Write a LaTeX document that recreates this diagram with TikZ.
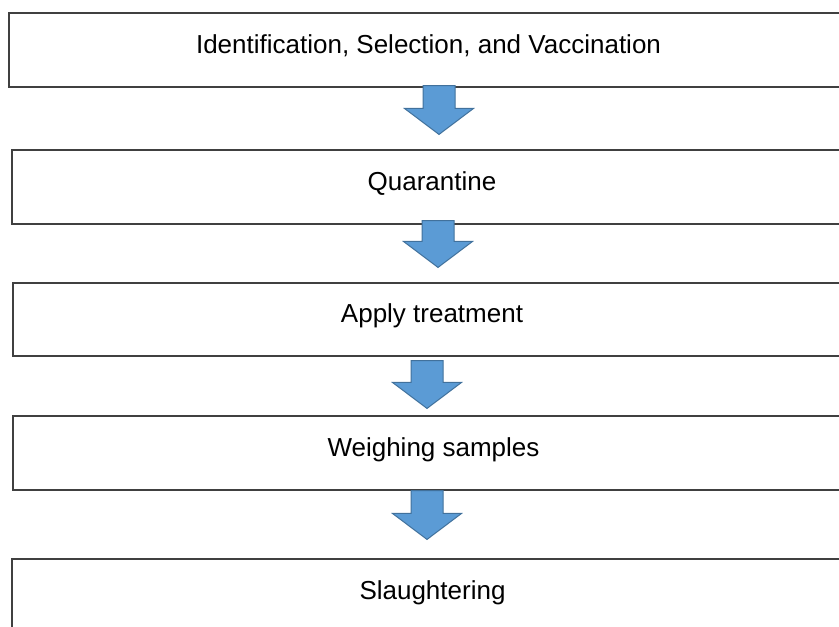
\documentclass[tikz,border=0pt]{standalone}
\usepackage{fontspec}
\setmainfont{Liberation Sans}
\usetikzlibrary{calc}
\definecolor{arrowfill}{HTML}{5B9BD5}
\definecolor{arrowline}{HTML}{41719C}

\begin{document}
\begin{tikzpicture}[x=1pt,y=1pt,
  stepbox/.style={draw=black!75,line width=1.1pt,fill=white,inner sep=0pt,
    minimum height=74pt,text height=20pt,text depth=13pt,
    font=\fontsize{26}{30}\selectfont},
  blockarrow/.style={draw=arrowline,fill=arrowfill,line width=1pt,
    to path={let \p1=(\tikztostart),\p2=(\tikztotarget) in
      (\x1-16pt,\y1) -- (\x1-16pt,\y2+26pt) -- (\x1-34.5pt,\y2+26pt) -- (\x1,\y2)
      -- (\x1+34.5pt,\y2+26pt) -- (\x1+16pt,\y2+26pt) -- (\x1+16pt,\y1) -- cycle}}]
\useasboundingbox (0,0) rectangle (839,627);
\clip (0,0) rectangle (839,627);
% steps
\node[stepbox,minimum width=839pt] (ident) at (428.5,577) {Identification, Selection, and Vaccination};
\node[stepbox,minimum width=840pt] (quar) at (432,440) {Quarantine};
\node[stepbox,minimum width=838pt,minimum height=73pt] (treat) at (432,307.5) {Apply treatment};
\node[stepbox,minimum width=841pt] (weigh) at (433.5,174) {Weighing samples};
\node[stepbox,minimum width=841pt] (slaugh) at (432.5,31) {Slaughtering};
% arrows
\draw[blockarrow] ([xshift=10.5pt,yshift=2pt]ident.south) to ([xshift=10.5pt,yshift=15pt]quar.north);
\draw[blockarrow] ([xshift=6pt,yshift=4pt]quar.south) to ([xshift=6pt,yshift=15pt]treat.north);
\draw[blockarrow] ([xshift=-5pt,yshift=-4pt]treat.south) to ([xshift=-5pt,yshift=7pt]weigh.north);
\draw[blockarrow] ([xshift=-6.5pt]weigh.south) to ([xshift=-6.5pt,yshift=19pt]slaugh.north);
\end{tikzpicture}
\end{document}
